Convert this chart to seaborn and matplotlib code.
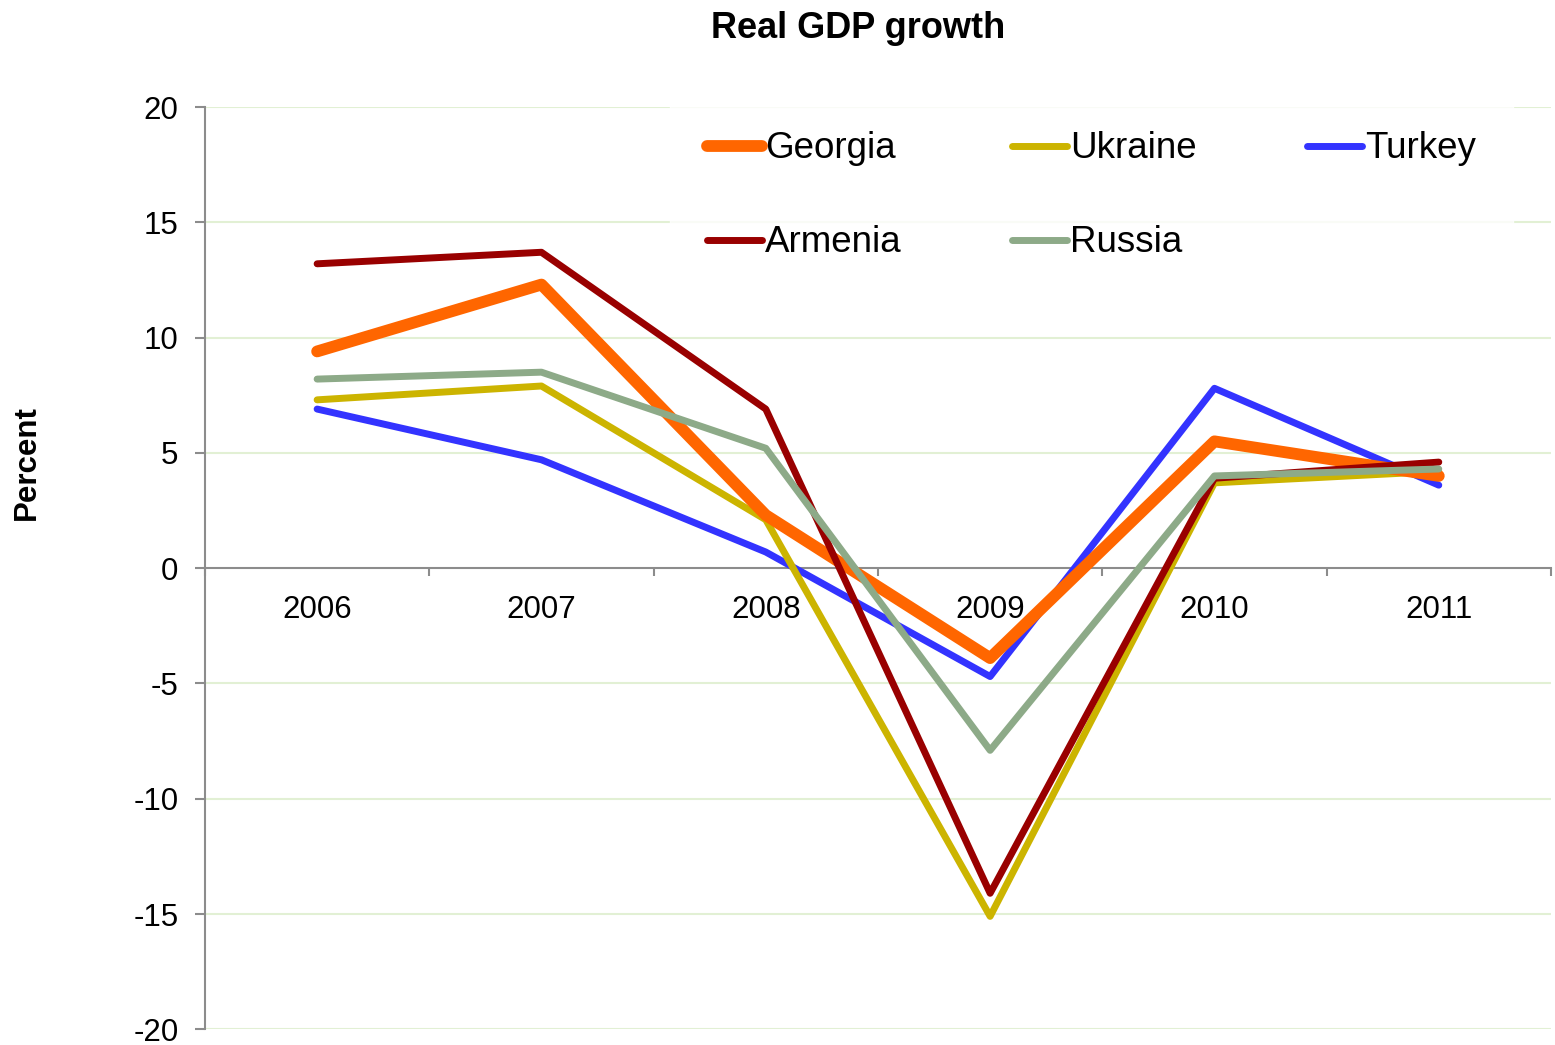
import numpy as np
import pandas as pd
import matplotlib
matplotlib.use("Agg")
import matplotlib.pyplot as plt
from matplotlib.ticker import FixedLocator
import seaborn as sns

years = ["2006", "2007", "2008", "2009", "2010", "2011"]
georgia = [9.4, 12.3, 2.3, -3.9, 5.5, 4.0]
ukraine = [7.3, 7.9, 2.1, -15.1, 3.7, 4.2]
turkey = [6.9, 4.7, 0.7, -4.7, 7.8, 3.6]
armenia = [13.2, 13.7, 6.9, -14.1, 3.9, 4.6]
russia = [8.2, 8.5, 5.2, -7.9, 4.0, 4.3]

countries = ["Georgia", "Ukraine", "Turkey", "Armenia", "Russia"]
colors = {"Georgia": "#FF6600", "Ukraine": "#CCB400", "Turkey": "#3333FF",
          "Armenia": "#990000", "Russia": "#8DAA88"}
widths = {"Georgia": 8.5, "Ukraine": 5, "Turkey": 5, "Armenia": 5, "Russia": 5}
zorders = {"Turkey": 3, "Ukraine": 4, "Georgia": 5, "Armenia": 6, "Russia": 7}

df = pd.DataFrame({
    "year": list(range(len(years))) * 5,
    "growth": georgia + ukraine + turkey + armenia + russia,
    "country": np.repeat(countries, len(years)),
})

sns.set_style("white")
plt.rcParams["font.family"] = ["Liberation Sans", "DejaVu Sans"]
plt.rcParams["axes.unicode_minus"] = False
plt.rcParams["text.color"] = "black"
plt.rcParams["xtick.color"] = "black"
plt.rcParams["ytick.color"] = "black"

fig = plt.figure(figsize=(15.55, 10.45), dpi=100)
ax = fig.add_axes([0.1318, 0.0150, 0.8656, 0.8826])

for c in countries:
    sub = df[df["country"] == c]
    sns.lineplot(data=sub, x="year", y="growth", ax=ax, color=colors[c],
                 linewidth=widths[c], label=c, zorder=zorders[c],
                 solid_capstyle="round", solid_joinstyle="round")

ax.set_xlim(-0.5, 5.5)
ax.set_ylim(-20, 20)
ax.set_yticks(range(-20, 21, 5))
ax.set_xlabel("")
ax.set_ylabel("")

# gridlines (skip the zero line, the axis sits there)
for v in range(-20, 21, 5):
    if v != 0:
        ax.axhline(v, color="#E2F0D4", linewidth=1.5, zorder=0)

for s in ["top", "right"]:
    ax.spines[s].set_visible(False)
ax.spines["left"].set_color("#8C8C8C")
ax.spines["left"].set_linewidth(1.5)
ax.spines["bottom"].set_position(("data", 0))
ax.spines["bottom"].set_color("#8C8C8C")
ax.spines["bottom"].set_linewidth(1.5)

ax.set_xticks(range(len(years)))
ax.set_xticklabels(years)
ax.xaxis.set_minor_locator(FixedLocator(np.arange(-0.5, 6, 1)))
ax.tick_params(axis="x", which="major", length=0, pad=19, labelsize=22.5,
               labelcolor="black")
ax.tick_params(axis="x", which="minor", direction="out", length=6, width=1.5,
               color="#8C8C8C", bottom=True)
ax.tick_params(axis="y", direction="out", length=7, width=1.5, color="#8C8C8C",
               pad=12, labelsize=22.5, left=True, labelcolor="black")

handles, labels = ax.get_legend_handles_labels()
lookup = dict(zip(labels, handles))
order = ["Georgia", "Armenia", "Ukraine", "Russia", "Turkey"]
leg = ax.legend([lookup[k] for k in order], order, ncol=3, loc="upper left",
                bbox_to_anchor=(0.419, 0.927), bbox_transform=fig.transFigure,
                fontsize=26.5, frameon=True, fancybox=False, handlelength=1.5,
                handletextpad=0.08, columnspacing=3.0, labelspacing=1.6,
                borderpad=1.0)
leg.get_frame().set_facecolor("white")
leg.get_frame().set_edgecolor("white")
leg.set_zorder(2)
for t in leg.get_texts():
    t.set_color("black")

fig.text(0.552, 0.973, "Real GDP growth", ha="center", va="center",
         fontsize=26, fontweight="bold")
fig.text(0.0174, 0.557, "Percent", ha="center", va="center", rotation=90,
         fontsize=22.5, fontweight="bold")

fig.savefig("out.png", dpi=100)
